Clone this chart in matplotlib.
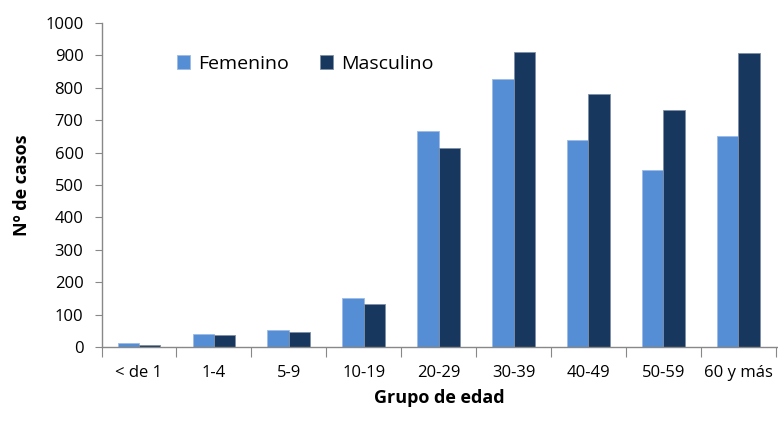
import matplotlib
matplotlib.use("Agg")
import matplotlib.pyplot as plt
import numpy as np

categories = ["< de 1", "1-4", "5-9", "10-19", "20-29", "30-39", "40-49", "50-59", "60 y más"]
femenino = [13, 41, 52, 150, 668, 828, 640, 547, 651]
masculino = [7, 38, 46, 133, 614, 909, 782, 733, 907]
yticks = list(range(0, 1001, 100))

plt.rcParams['font.family'] = ['Open Sans', 'DejaVu Sans']

fig = plt.figure(figsize=(7.78, 4.21), dpi=100)
ax = fig.add_axes([101.5/778, 1 - 347/421, (778 - 101.5)/778, (347 - 23)/421])

x = np.arange(len(categories))
w = 0.285
ax.bar(x - w/2, femenino, w, color="#558ED5", edgecolor="#9DBBE6", linewidth=0.6, label="Femenino")
ax.bar(x + w/2, masculino, w, color="#17375E", edgecolor="#7F8FA6", linewidth=0.6, label="Masculino")

ax.set_xlim(-0.5, len(categories) - 0.5 + 0.03)
ax.set_ylim(0, 1000)
ax.set_yticks(yticks)
ax.set_yticklabels([str(v) for v in yticks], fontsize=12)

ax.set_xticks(np.arange(len(categories) + 1) - 0.5)
ax.set_xticklabels([])
ax.set_xticks(x, minor=True)
ax.set_xticklabels(categories, minor=True, fontsize=12)
ax.tick_params(axis='x', which='major', length=7, color='#888888', direction='out')
ax.tick_params(axis='x', which='minor', length=0, pad=13)
ax.tick_params(axis='y', length=5, color='#888888', direction='out', pad=8)

for s in ['top', 'right']:
    ax.spines[s].set_visible(False)
for s in ['left', 'bottom']:
    ax.spines[s].set_color('#888888')
    ax.spines[s].set_linewidth(1)

ax.set_ylabel("Nº de casos", fontsize=13, fontweight='bold', labelpad=10)
ax.set_xlabel("Grupo de edad", fontsize=13, fontweight='bold', labelpad=6)

ax.legend(loc='upper left', bbox_to_anchor=(0.085, 0.955), ncol=2, frameon=False,
          fontsize=14, handlelength=0.7, handleheight=0.7, handletextpad=0.4,
          columnspacing=1.6)

fig.savefig("out.png", dpi=100)
